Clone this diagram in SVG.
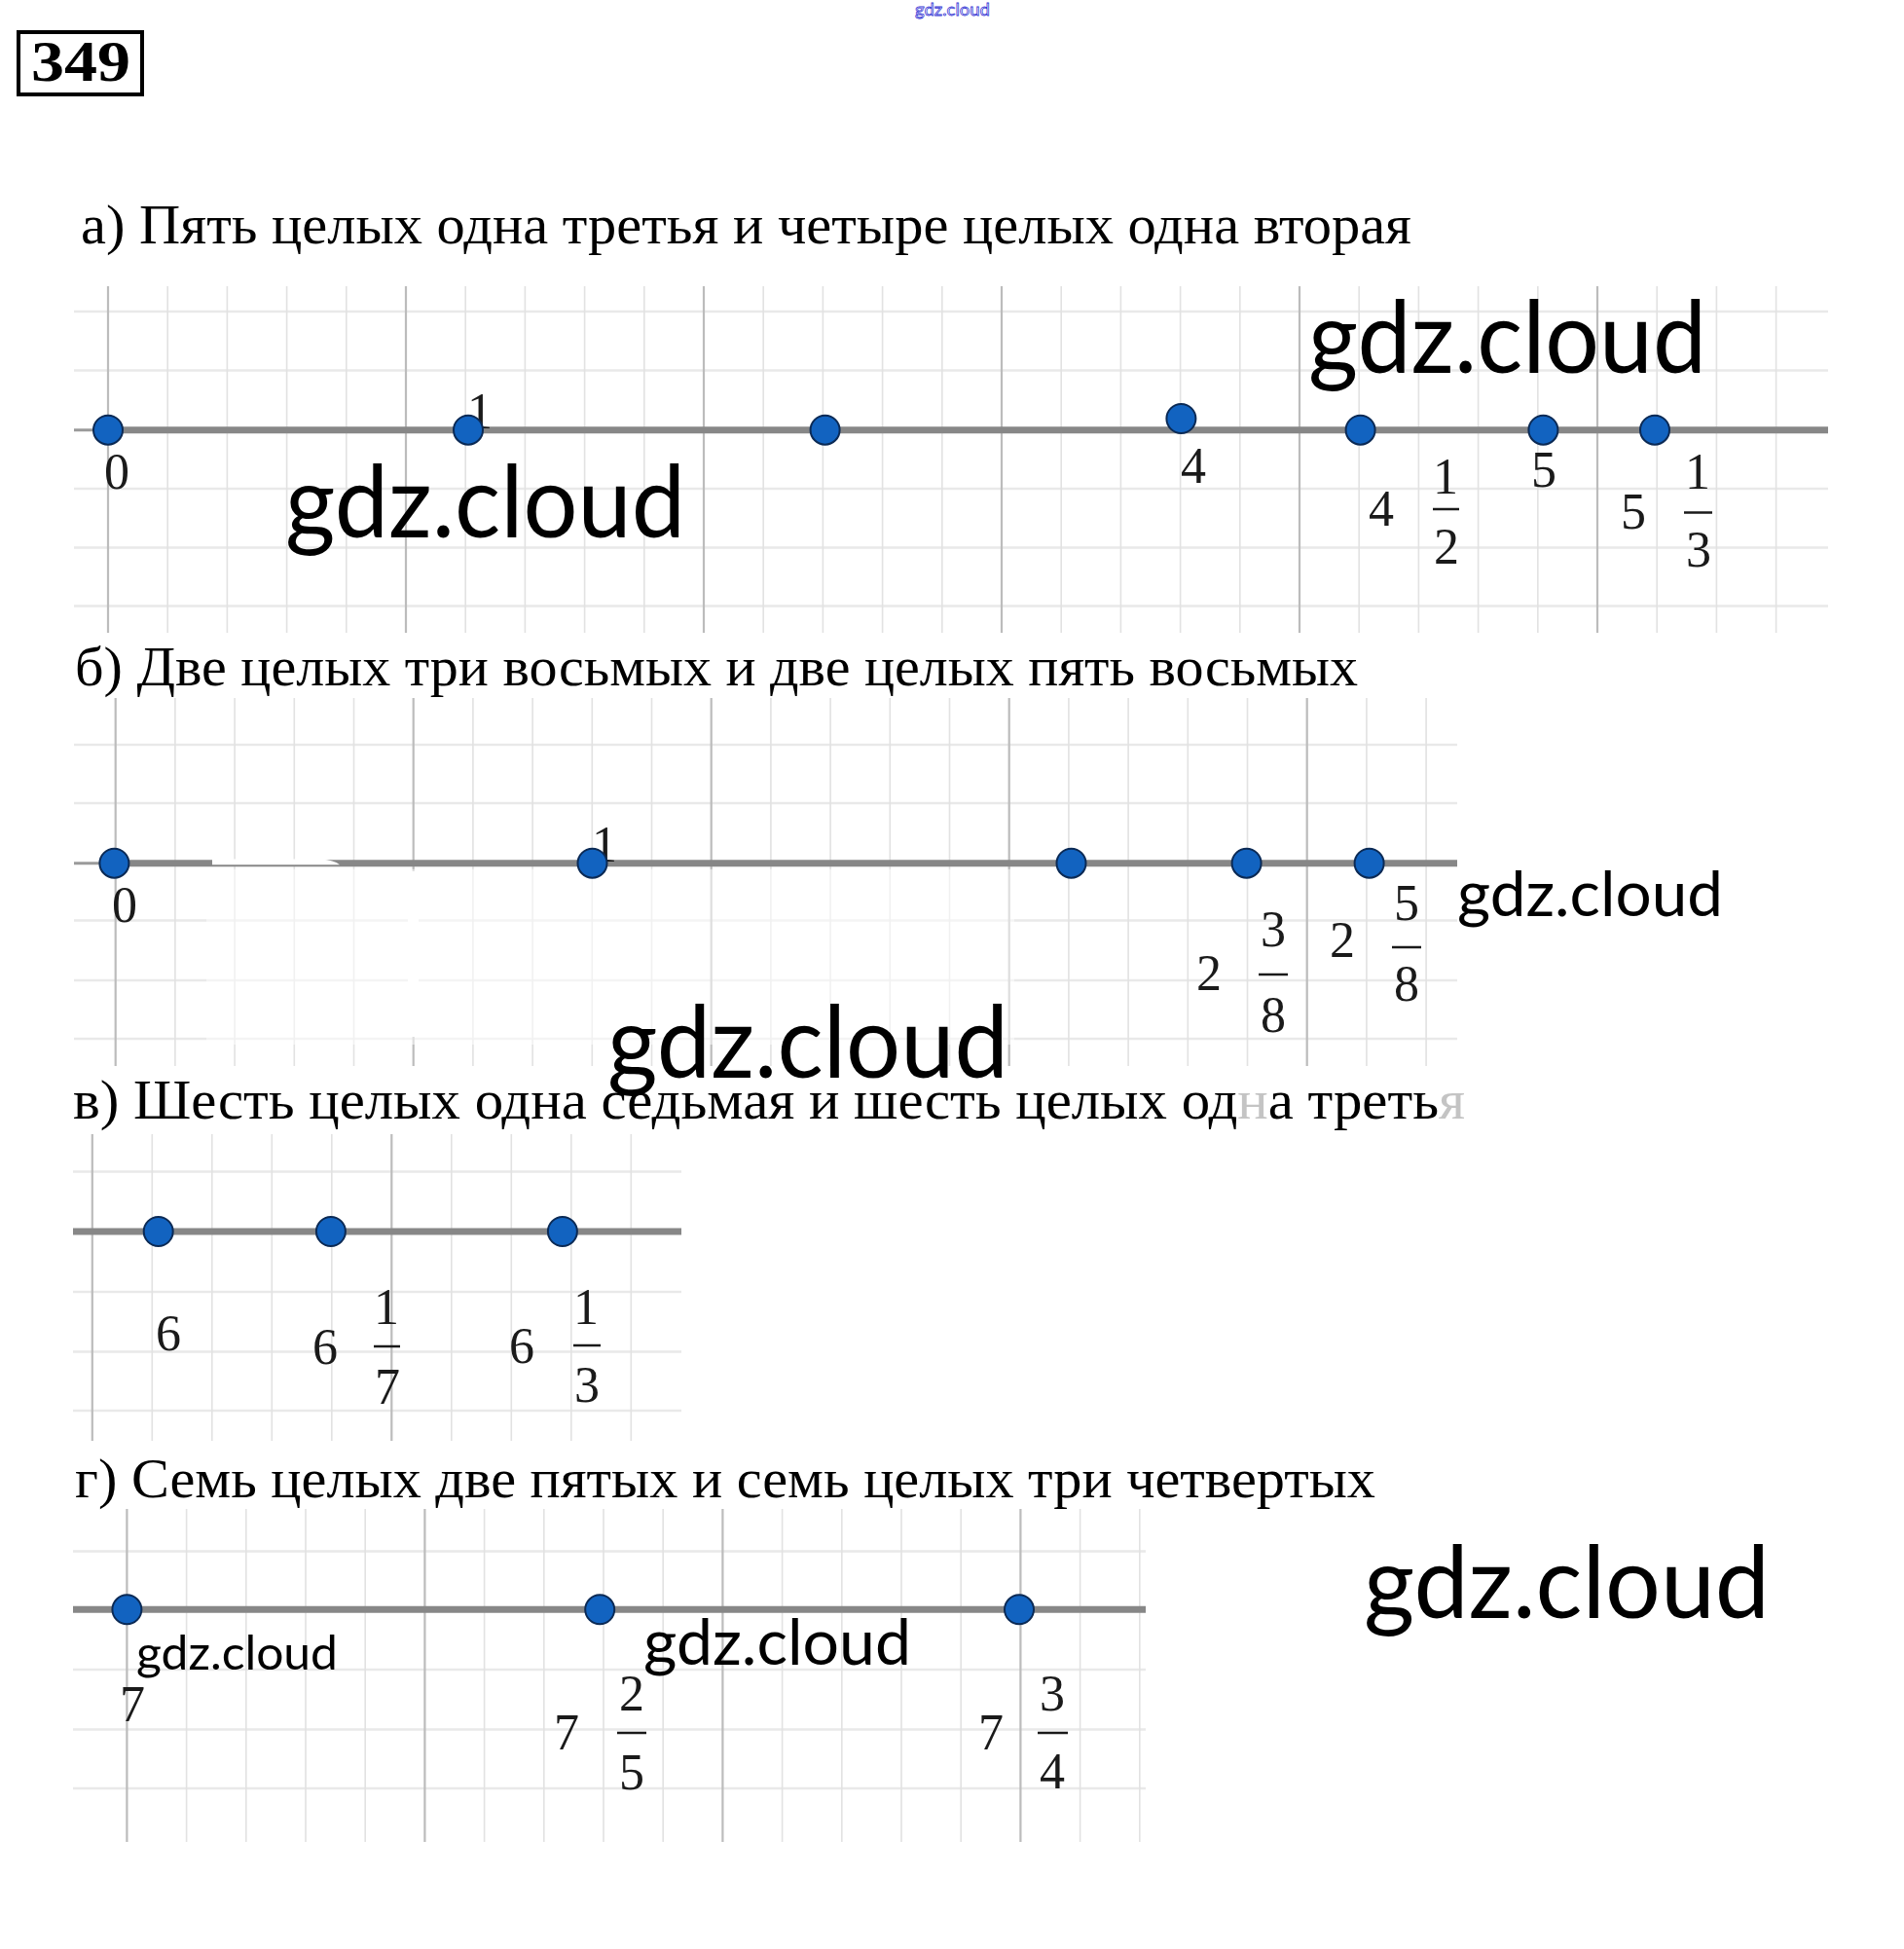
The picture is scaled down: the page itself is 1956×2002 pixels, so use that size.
<svg xmlns="http://www.w3.org/2000/svg" width="1956" height="2002" viewBox="0 0 1956 2002">
<style>
.minor{stroke:#e2e2e2;stroke-width:1.6;fill:none}
.hl{stroke:#e9e9e9;stroke-width:2.6;fill:none}
.major{stroke:#bcbcbc;stroke-width:2.2;fill:none}
.axis{stroke:#878787;stroke-width:7;stroke-linecap:butt}
.dot{fill:#1263c0;stroke:#0b2a55;stroke-width:2}
.num{font-family:"Liberation Serif",serif;font-size:52px;fill:#1a1a1a;text-anchor:middle}
.bar{stroke:#1a1a1a;stroke-width:2.5}
.title{font-family:"Liberation Serif",serif;font-size:58px;fill:#000}
.wm{font-family:Lato,"Liberation Sans",sans-serif;fill:#000}
</style>
<rect x="0" y="0" width="1956" height="2002" fill="#fff"/>

<g id="header">
  <rect x="19" y="33" width="127" height="64" fill="none" stroke="#000" stroke-width="4"/>
  <text x="32" y="83" font-family="'Liberation Serif',serif" font-weight="bold" font-size="60" textLength="102" lengthAdjust="spacingAndGlyphs">349</text>
  <text x="940" y="16" font-family="Lato,'Liberation Sans',sans-serif" font-size="18" fill="#fff" stroke="#3b3bd6" stroke-width="0.8" textLength="77" lengthAdjust="spacingAndGlyphs">gdz.cloud</text>
</g>

<!-- ===== Part a ===== -->
<text id="title-a" class="title" x="83" y="250" textLength="1367" lengthAdjust="spacingAndGlyphs">а) Пять целых одна третья и четыре целых одна вторая</text>
<g id="grid-a">
  <path class="hl" d="M76,320H1878M76,380.5H1878M76,502H1878M76,562.5H1878M76,622.5H1878"/>
  <path class="minor" d="M172.2,294V650M233.4,294V650M294.6,294V650M355.8,294V650M478.2,294V650M539.4,294V650M600.6,294V650M661.8,294V650M784.2,294V650M845.4,294V650M906.6,294V650M967.8,294V650M1090.2,294V650M1151.4,294V650M1212.6,294V650M1273.8,294V650M1396.2,294V650M1457.4,294V650M1518.6,294V650M1579.8,294V650M1702.2,294V650M1763.4,294V650M1824.6,294V650"/>
  <path class="major" d="M111,294V650M417,294V650M723,294V650M1029,294V650M1335,294V650M1641,294V650"/>
</g>

<!-- ===== Part b ===== -->
<text id="title-b" class="title" x="77" y="704" textLength="1318" lengthAdjust="spacingAndGlyphs">б) Две целых три восьмых и две целых пять восьмых</text>
<g id="grid-b">
  <path class="hl" d="M76,765H1497M76,825H1497M76,945.5H1497M76,1007H1497M76,1067H1497"/>
  <path class="minor" d="M179.9,717V1095M241.1,717V1095M302.3,717V1095M363.5,717V1095M485.9,717V1095M547.1,717V1095M608.3,717V1095M669.5,717V1095M791.9,717V1095M853.1,717V1095M914.3,717V1095M975.5,717V1095M1097.9,717V1095M1159.1,717V1095M1220.3,717V1095M1281.5,717V1095M1403.9,717V1095M1465.1,717V1095"/>
  <path class="major" d="M118.7,717V1095M424.7,717V1095M730.7,717V1095M1036.7,717V1095M1342.7,717V1095"/>
  <rect x="212" y="893" width="830" height="180" fill="#fff" opacity="0.5"/>
  <rect x="419" y="895" width="11" height="170" fill="#fff"/>
</g>

<!-- ===== Part c ===== -->
<text id="title-c" class="title" x="75" y="1149" textLength="1430" lengthAdjust="spacingAndGlyphs">в) Шесть целых одна седьмая и шесть целых од<tspan fill="#c4c4c4">н</tspan>а треть<tspan fill="#c4c4c4">я</tspan></text>
<g id="grid-c">
  <path class="hl" d="M75,1203.5H700M75,1327H700M75,1388.5H700M75,1449H700"/>
  <path class="minor" d="M156.3,1165V1480M217.8,1165V1480M279.3,1165V1480M340.8,1165V1480M463.8,1165V1480M525.3,1165V1480M586.8,1165V1480M648.3,1165V1480"/>
  <path class="major" d="M94.8,1165V1480M402.3,1165V1480"/>
</g>

<!-- ===== Part d ===== -->
<text id="title-d" class="title" x="77" y="1538" textLength="1336" lengthAdjust="spacingAndGlyphs">г) Семь целых две пятых и семь целых три четвертых</text>
<g id="grid-d">
  <path class="hl" d="M75,1593.5H1177M75,1715H1177M75,1776.5H1177M75,1837H1177"/>
  <path class="minor" d="M191.6,1550V1892M252.8,1550V1892M314,1550V1892M375.2,1550V1892M497.6,1550V1892M558.8,1550V1892M620,1550V1892M681.2,1550V1892M803.6,1550V1892M864.8,1550V1892M926,1550V1892M987.2,1550V1892M1109.6,1550V1892M1170.8,1550V1892"/>
  <path class="major" d="M130.4,1550V1892M436.4,1550V1892M742.4,1550V1892M1048.4,1550V1892"/>
</g>

<!-- connectors: the number lines -->
<g id="connectors">
  <line x1="76" y1="441.7" x2="111" y2="441.7" stroke="#9a9a9a" stroke-width="3"/>
  <line class="axis" x1="100" y1="441.7" x2="1878" y2="441.7"/>
  <line x1="76" y1="886.7" x2="117" y2="886.7" stroke="#9a9a9a" stroke-width="3"/>
  <line class="axis" x1="106" y1="886.7" x2="1497" y2="886.7"/>
  <path d="M218,882.5H330Q343,883.5 349,888.2H218Z" fill="#fff"/>
  <line class="axis" x1="75" y1="1265" x2="700" y2="1265"/>
  <line class="axis" x1="75" y1="1653.3" x2="1177" y2="1653.3"/>
</g>

<!-- nodes part a -->
<g id="a-0"><circle class="dot" cx="111" cy="441.7" r="15"/><text class="num" x="120" y="502">0</text></g>
<g id="a-1"><text class="num" x="493" y="440">1</text><circle class="dot" cx="481" cy="441.7" r="15"/></g>
<g id="a-2"><circle class="dot" cx="847.6" cy="441.7" r="15"/></g>
<g id="a-4"><circle class="dot" cx="1213.4" cy="430" r="15"/><text class="num" x="1226" y="496">4</text></g>
<g id="a-4-1-2"><circle class="dot" cx="1397.6" cy="441.7" r="15"/>
  <text class="num" x="1419" y="540">4</text><text class="num" x="1485" y="507">1</text><line class="bar" x1="1472" y1="523" x2="1499" y2="523"/><text class="num" x="1486" y="579">2</text></g>
<g id="a-5"><circle class="dot" cx="1585.4" cy="441.7" r="15"/><text class="num" x="1586" y="500">5</text></g>
<g id="a-5-1-3"><circle class="dot" cx="1700" cy="441.7" r="15"/>
  <text class="num" x="1678" y="543">5</text><text class="num" x="1744" y="502">1</text><line class="bar" x1="1730" y1="526.5" x2="1759" y2="526.5"/><text class="num" x="1745" y="582">3</text></g>

<!-- nodes part b -->
<g id="b-0"><circle class="dot" cx="117.4" cy="886.7" r="15"/><text class="num" x="128" y="947">0</text></g>
<g id="b-1"><text class="num" x="621" y="885">1</text><circle class="dot" cx="608.5" cy="886.7" r="15"/></g>
<g id="b-2"><circle class="dot" cx="1100.5" cy="886.7" r="15"/></g>
<g id="b-2-3-8"><circle class="dot" cx="1280.6" cy="886.7" r="15"/>
  <text class="num" x="1242" y="1017">2</text><text class="num" x="1308" y="972" fill="#6a6a6a">3</text><line class="bar" x1="1293" y1="1001" x2="1323" y2="1001"/><text class="num" x="1308" y="1060">8</text></g>
<g id="b-2-5-8"><circle class="dot" cx="1406.6" cy="886.7" r="15"/>
  <text class="num" x="1379" y="983" fill="#8a8a8a">2</text><text class="num" x="1445" y="945">5</text><line class="bar" x1="1430" y1="973" x2="1460" y2="973"/><text class="num" x="1445" y="1028">8</text></g>

<!-- nodes part c -->
<g id="c-6"><circle class="dot" cx="162.7" cy="1265" r="15"/><text class="num" x="173" y="1387">6</text></g>
<g id="c-6-1-7"><circle class="dot" cx="339.9" cy="1265" r="15"/>
  <text class="num" x="334" y="1401">6</text><text class="num" x="397" y="1360">1</text><line class="bar" x1="384" y1="1383" x2="411" y2="1383"/><text class="num" x="398" y="1442">7</text></g>
<g id="c-6-1-3"><circle class="dot" cx="577.9" cy="1265" r="15"/>
  <text class="num" x="536" y="1400">6</text><text class="num" x="602" y="1360">1</text><line class="bar" x1="589" y1="1382" x2="617" y2="1382"/><text class="num" x="603" y="1440">3</text></g>

<!-- nodes part d -->
<g id="d-7"><circle class="dot" cx="130.4" cy="1653.3" r="15"/><text class="num" x="136" y="1768">7</text></g>
<g id="d-7-2-5"><circle class="dot" cx="616.2" cy="1653.3" r="15"/>
  <text class="num" x="582" y="1797">7</text><text class="num" x="649" y="1757">2</text><line class="bar" x1="634" y1="1780" x2="664" y2="1780"/><text class="num" x="649" y="1838">5</text></g>
<g id="d-7-3-4"><circle class="dot" cx="1047" cy="1653.3" r="15"/>
  <text class="num" x="1018" y="1797">7</text><text class="num" x="1081" y="1757">3</text><line class="bar" x1="1066" y1="1780" x2="1097" y2="1780"/><text class="num" x="1081" y="1837">4</text></g>

<!-- watermarks -->
<g id="watermarks">
  <text class="wm" x="1344" y="383" font-size="102" textLength="409" lengthAdjust="spacingAndGlyphs">gdz.cloud</text>
  <text class="wm" x="293" y="552" font-size="102" textLength="411" lengthAdjust="spacingAndGlyphs">gdz.cloud</text>
  <text class="wm" x="1497" y="941" font-size="64" textLength="273" lengthAdjust="spacingAndGlyphs">gdz.cloud</text>
  <text class="wm" x="624" y="1107" font-size="102" textLength="412" lengthAdjust="spacingAndGlyphs">gdz.cloud</text>
  <text class="wm" x="1401" y="1662" font-size="102" textLength="417" lengthAdjust="spacingAndGlyphs">gdz.cloud</text>
  <text class="wm" x="140" y="1715" font-size="48" textLength="207" lengthAdjust="spacingAndGlyphs">gdz.cloud</text>
  <text class="wm" x="661" y="1710" font-size="66" textLength="275" lengthAdjust="spacingAndGlyphs">gdz.cloud</text>
</g>
</svg>
